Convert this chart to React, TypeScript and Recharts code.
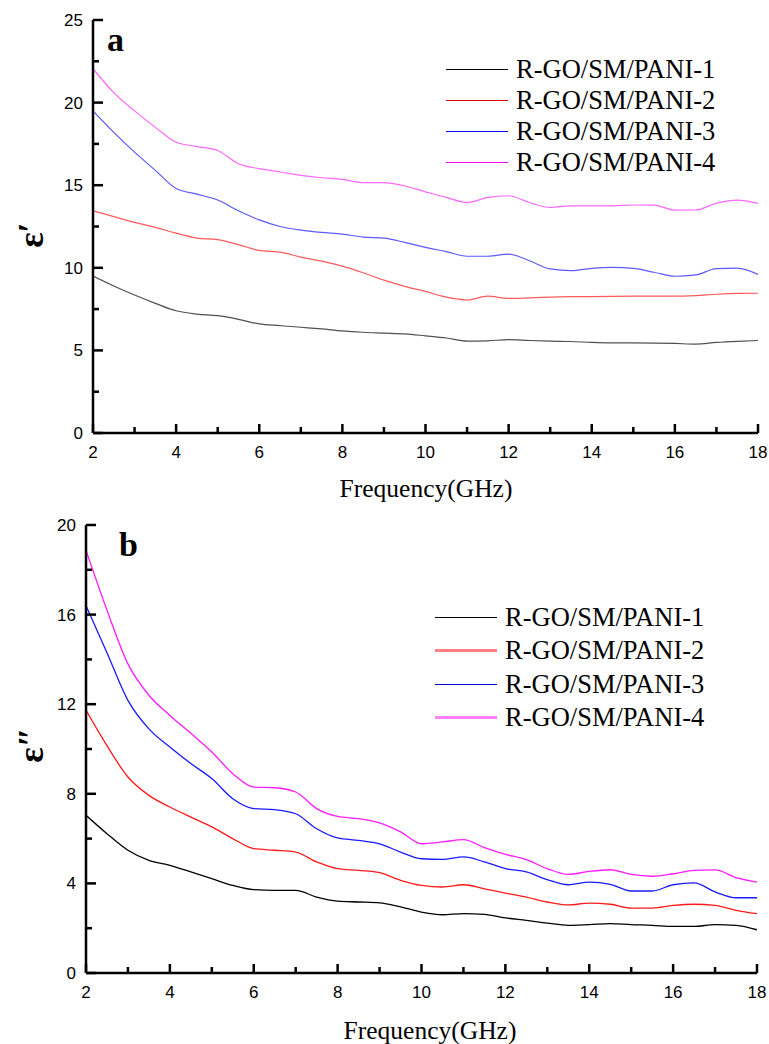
import React from "react";
import { LineChart, Line, XAxis, YAxis } from "recharts";

// frequency grid (GHz)
const freqs = [2, 2.5, 3, 3.5, 4, 4.5, 5, 5.5, 6, 6.5, 7, 7.5, 8, 8.5, 9, 9.5, 10, 10.5, 11, 11.5, 12, 12.5, 13, 13.5, 14, 14.5, 15, 15.5, 16, 16.5, 17, 17.5, 18];

const seriesNames = ["R-GO/SM/PANI-1", "R-GO/SM/PANI-2", "R-GO/SM/PANI-3", "R-GO/SM/PANI-4"];

// panel a: real permittivity
const realP1 = [9.5, 8.9, 8.35, 7.85, 7.4, 7.2, 7.1, 6.88, 6.6, 6.5, 6.4, 6.3, 6.18, 6.1, 6.05, 6.0, 5.88, 5.75, 5.56, 5.58, 5.65, 5.6, 5.56, 5.54, 5.48, 5.45, 5.45, 5.44, 5.42, 5.38, 5.48, 5.55, 5.6];
const realP2 = [13.45, 13.1, 12.75, 12.45, 12.1, 11.8, 11.7, 11.4, 11.05, 10.95, 10.65, 10.4, 10.1, 9.7, 9.25, 8.88, 8.57, 8.22, 8.05, 8.28, 8.15, 8.18, 8.22, 8.25, 8.26, 8.27, 8.28, 8.28, 8.28, 8.32, 8.4, 8.45, 8.46];
const realP3 = [19.5, 18.2, 17.0, 15.9, 14.8, 14.46, 14.1, 13.45, 12.9, 12.5, 12.28, 12.14, 12.04, 11.86, 11.8, 11.54, 11.24, 10.98, 10.7, 10.7, 10.83, 10.43, 9.93, 9.83, 9.97, 10.03, 9.97, 9.73, 9.49, 9.57, 9.95, 9.98, 9.6];
const realP4 = [22.05, 20.6, 19.5, 18.5, 17.6, 17.34, 17.1, 16.3, 16.0, 15.8, 15.6, 15.45, 15.35, 15.15, 15.15, 14.95, 14.6, 14.26, 13.95, 14.26, 14.36, 13.95, 13.65, 13.75, 13.75, 13.75, 13.8, 13.79, 13.49, 13.5, 13.91, 14.1, 13.9];

// panel b: imaginary permittivity
const imagP1 = [7.04, 6.22, 5.48, 5.03, 4.81, 4.51, 4.21, 3.91, 3.72, 3.69, 3.69, 3.39, 3.21, 3.17, 3.13, 2.95, 2.72, 2.6, 2.65, 2.62, 2.46, 2.35, 2.23, 2.13, 2.16, 2.2, 2.16, 2.13, 2.08, 2.08, 2.16, 2.13, 1.93];
const imagP2 = [11.73, 10.15, 8.75, 7.93, 7.41, 6.96, 6.52, 6.0, 5.55, 5.48, 5.4, 4.96, 4.66, 4.58, 4.48, 4.14, 3.91, 3.84, 3.94, 3.76, 3.57, 3.39, 3.17, 3.04, 3.12, 3.07, 2.9, 2.9, 3.02, 3.07, 3.02, 2.8, 2.65];
const imagP3 = [16.4, 14.3, 12.17, 10.9, 10.09, 9.35, 8.68, 7.78, 7.34, 7.29, 7.11, 6.44, 6.03, 5.92, 5.77, 5.4, 5.1, 5.07, 5.18, 4.96, 4.66, 4.51, 4.17, 3.94, 4.06, 3.96, 3.66, 3.66, 3.94, 4.02, 3.62, 3.36, 3.36];
const imagP4 = [18.87, 16.2, 13.8, 12.4, 11.5, 10.7, 9.87, 8.9, 8.3, 8.27, 8.08, 7.34, 6.99, 6.89, 6.7, 6.3, 5.77, 5.85, 5.95, 5.6, 5.3, 5.06, 4.66, 4.4, 4.54, 4.61, 4.4, 4.32, 4.43, 4.58, 4.6, 4.26, 4.06];

const xTicks = [2, 3, 4, 5, 6, 7, 8, 9, 10, 11, 12, 13, 14, 15, 16, 17, 18];
const yTicksA = [0, 2.5, 5, 7.5, 10, 12.5, 15, 17.5, 20, 22.5, 25];
const yTicksB = [0, 2, 4, 6, 8, 10, 12, 14, 16, 18, 20];

const rowsA = freqs.map((f, i) => ({ f, s1: realP1[i], s2: realP2[i], s3: realP3[i], s4: realP4[i] }));
const rowsB = freqs.map((f, i) => ({ f, s1: imagP1[i], s2: imagP2[i], s3: imagP3[i], s4: imagP4[i] }));

const SANS = "'Liberation Sans', Arial, sans-serif";
const SERIF = "'Liberation Serif', 'Times New Roman', serif";
const GAP = 10;

// bottom axis: inward tick mark (filled rect) + label on even values
const xTick = (props: any) => {
  const { x, y, payload } = props;
  const major = payload.value % 2 === 0;
  const axisY = y - GAP;
  const len = major ? 9 : 6;
  return (
    <g>
      <rect x={x - 1.25} y={axisY - len} width={2.5} height={len} fill="#000" />
      {major && (
        <text x={x} y={axisY + 25} textAnchor="middle" fontSize={17} fontFamily={SANS} fill="#000">
          {payload.value}
        </text>
      )}
    </g>
  );
};

const yTick = (step: number) => (props: any) => {
  const { x, y, payload } = props;
  const major = payload.value % step === 0;
  const axisX = x + GAP;
  const len = major ? 10 : 6;
  return (
    <g>
      <rect x={axisX} y={y - 1.25} width={len} height={2.5} fill="#000" />
      {major && (
        <text x={x} y={y + 6} textAnchor="end" fontSize={17} fontFamily={SANS} fill="#000">
          {payload.value}
        </text>
      )}
    </g>
  );
};

type Key = { color: string; width: number };

function LegendBox({ keys, rowH, left, top }: { keys: Key[]; rowH: number; left: number; top: number }) {
  return (
    <div style={{ position: "absolute", left, top, fontFamily: SERIF, fontSize: 26.5, color: "#000" }}>
      {keys.map((k, i) => (
        <div key={i} style={{ display: "flex", alignItems: "center", height: rowH, whiteSpace: "nowrap" }}>
          <span style={{ display: "inline-block", width: 62, height: 0, borderTop: `${k.width}px solid ${k.color}`, marginRight: 8 }} />
          <span>{seriesNames[i]}</span>
        </div>
      ))}
    </div>
  );
}

const lineColorsA = ["#505050", "#ff5a5a", "#5a5aff", "#ff66ff"];
const legendKeysA: Key[] = [
  { color: "#000", width: 1.5 },
  { color: "#e00000", width: 1.5 },
  { color: "#0000ff", width: 1.5 },
  { color: "#ff00ff", width: 1.5 },
];
const lineColorsB = ["#000000", "#ff1a1a", "#1a1aff", "#ff1aff"];
const legendKeysB: Key[] = [
  { color: "#000", width: 1.5 },
  { color: "#ff8080", width: 3 },
  { color: "#0000cc", width: 1.5 },
  { color: "#ff80ff", width: 3 },
];

const axisStroke = { stroke: "#000", strokeWidth: 2.5 };

function Panel({ rows, height, margin, yMax, yTicks, yStep, colors, width }: any) {
  return (
    <LineChart width={769} height={height} data={rows} margin={margin}>
      <XAxis dataKey="f" type="number" domain={[2, 18]} ticks={xTicks} interval={0} tickSize={0} tickMargin={GAP} tick={xTick} tickLine={false} axisLine={axisStroke} height={30} allowDataOverflow />
      <XAxis xAxisId="top" orientation="top" dataKey="f" type="number" domain={[2, 18]} tick={false} tickLine={false} axisLine={axisStroke} height={0} />
      <YAxis type="number" domain={[0, yMax]} ticks={yTicks} interval={0} tickSize={0} tickMargin={GAP} tick={yTick(yStep)} tickLine={false} axisLine={axisStroke} width={60} allowDataOverflow />
      <YAxis yAxisId="right" orientation="right" type="number" domain={[0, yMax]} tick={false} tickLine={false} axisLine={axisStroke} width={0} />
      {["s1", "s2", "s3", "s4"].map((k, i) => (
        <Line key={k} dataKey={k} name={seriesNames[i]} type="monotone" stroke={colors[i]} strokeWidth={width} dot={false} isAnimationActive={false} />
      ))}
    </LineChart>
  );
}

export default function App() {
  return (
    <div style={{ position: "absolute", left: 0, top: 0, width: 769, height: 1044, background: "#fff", overflow: "hidden" }}>
      {/* panel a */}
      <div style={{ position: "absolute", left: 0, top: 0 }}>
        <Panel rows={rowsA} height={500} margin={{ top: 20, right: 11, bottom: 37, left: 33 }} yMax={25} yTicks={yTicksA} yStep={5} colors={lineColorsA} width={1.2} />
      </div>
      <LegendBox keys={legendKeysA} rowH={31} left={446} top={54} />

      {/* panel b */}
      <div style={{ position: "absolute", left: 0, top: 500 }}>
        <Panel rows={rowsB} height={544} margin={{ top: 25, right: 12, bottom: 41, left: 26 }} yMax={20} yTicks={yTicksB} yStep={4} colors={lineColorsB} width={1.3} />
      </div>
      <LegendBox keys={legendKeysB} rowH={33.3} left={435} top={601} />

      {/* titles and panel letters */}
      <div style={{ position: "absolute", left: 107, top: 23, fontFamily: SERIF, fontWeight: "bold", fontSize: 34, lineHeight: "34px" }}>a</div>
      <div style={{ position: "absolute", left: 119, top: 528, fontFamily: SERIF, fontWeight: "bold", fontSize: 34, lineHeight: "34px" }}>b</div>

      <div style={{ position: "absolute", left: 31, top: 235, transform: "translate(-50%, -50%) rotate(-90deg)", fontFamily: SERIF, fontWeight: "bold", fontSize: 36, lineHeight: "36px", whiteSpace: "nowrap" }}>ε′</div>
      <div style={{ position: "absolute", left: 31, top: 745, transform: "translate(-50%, -50%) rotate(-90deg)", fontFamily: SERIF, fontWeight: "bold", fontSize: 36, lineHeight: "36px", whiteSpace: "nowrap" }}>ε″</div>

      <div style={{ position: "absolute", left: 276, width: 300, top: 476, textAlign: "center", fontFamily: SERIF, fontSize: 25.5, lineHeight: "25px" }}>Frequency(GHz)</div>
      <div style={{ position: "absolute", left: 280, width: 300, top: 1018, textAlign: "center", fontFamily: SERIF, fontSize: 25.5, lineHeight: "25px" }}>Frequency(GHz)</div>
    </div>
  );
}
